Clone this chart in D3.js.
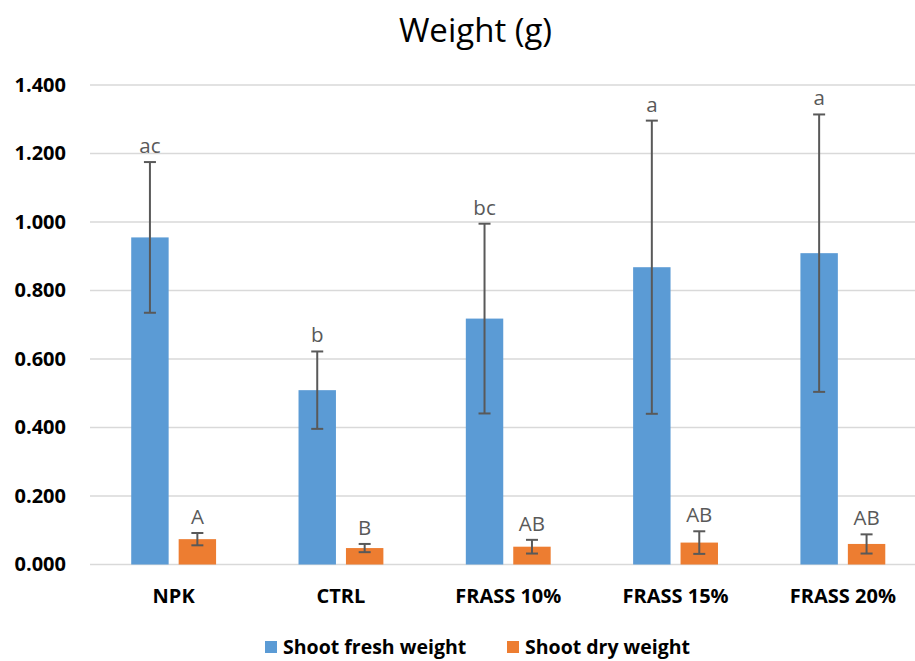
<!DOCTYPE html>
<html>
<head>
<meta charset="utf-8">
<script src="https://cdn.jsdelivr.net/npm/d3@7"></script>
<style>
  html, body { margin: 0; padding: 0; background: #fff; }
  svg { display: block; }
</style>
</head>
<body>
<div id="chart"></div>
<script>
// Treatments and measured shoot weights (g)
const categories = ["NPK", "CTRL", "FRASS 10%", "FRASS 15%", "FRASS 20%"];
const seriesNames = ["Shoot fresh weight", "Shoot dry weight"];
const freshWeight = [0.955, 0.509, 0.718, 0.868, 0.909];
const freshError  = [0.220, 0.113, 0.277, 0.428, 0.405];
const dryWeight   = [0.074, 0.048, 0.052, 0.064, 0.060];
const dryError    = [0.018, 0.012, 0.020, 0.033, 0.028];
const freshLetters = ["ac", "b", "bc", "a", "a"];
const dryLetters   = ["A", "B", "AB", "AB", "AB"];
const yTicks = [0, 0.2, 0.4, 0.6, 0.8, 1.0, 1.2, 1.4];
const colors = ["#5B9BD5", "#ED7D31"];

const W = 915, H = 661;
const margin = { left: 90, right: -11.5, top: 85, bottom: 96.5 };
const font = "'Open Sans', 'Noto Sans', sans-serif";

const svg = d3.select("#chart").append("svg")
  .attr("width", W).attr("height", H)
  .style("font-family", font);

const x = d3.scaleBand()
  .domain(categories)
  .range([margin.left, W - margin.right])
  .padding(0);

const x1 = d3.scaleBand()
  .domain(seriesNames)
  .range([0, x.bandwidth()])
  .paddingInner(0.211)
  .paddingOuter(0.869);

const y = d3.scaleLinear()
  .domain([0, 1.4])
  .range([H - margin.bottom, margin.top]);

// Horizontal gridlines
svg.append("g")
  .selectAll("line")
  .data(yTicks)
  .join("line")
  .attr("x1", margin.left).attr("x2", W)
  .attr("y1", d => y(d)).attr("y2", d => y(d))
  .attr("stroke", "#d9d9d9")
  .attr("stroke-width", 1.5);

// Y axis labels
const yAxis = d3.axisLeft(y)
  .tickValues(yTicks)
  .tickFormat(d3.format(".3f"))
  .tickSize(0)
  .tickPadding(0);
const gy = svg.append("g")
  .attr("transform", `translate(66,0)`)
  .call(yAxis);
gy.select(".domain").remove();
gy.selectAll("text")
  .attr("font-family", font)
  .attr("font-size", 20)
  .attr("font-weight", "bold")
  .attr("fill", "#000");

// X axis labels
const xAxis = d3.axisBottom(x).tickSize(0).tickPadding(0);
const gx = svg.append("g")
  .attr("transform", `translate(0,${y(0) + 24.5})`)
  .call(xAxis);
gx.select(".domain").remove();
gx.selectAll("text")
  .attr("font-family", font)
  .attr("font-size", 20)
  .attr("font-weight", "bold")
  .attr("fill", "#000");

// Bar records per category
const rows = categories.map((c, i) => ([
  { cat: c, s: seriesNames[0], v: freshWeight[i], e: freshError[i], lab: freshLetters[i], col: colors[0] },
  { cat: c, s: seriesNames[1], v: dryWeight[i], e: dryError[i], lab: dryLetters[i], col: colors[1] }
]));

const groups = svg.append("g")
  .selectAll("g")
  .data(rows)
  .join("g")
  .attr("transform", d => `translate(${x(d[0].cat)},0)`);

groups.selectAll("rect")
  .data(d => d)
  .join("rect")
  .attr("x", d => x1(d.s))
  .attr("width", x1.bandwidth())
  .attr("y", d => y(d.v))
  .attr("height", d => y(0) - y(d.v))
  .attr("fill", d => d.col);

// Error bars
const errColor = "#595959";
const capHalf = 6;
const eb = groups.selectAll("g.err")
  .data(d => d)
  .join("g")
  .attr("class", "err")
  .attr("transform", d => `translate(${x1(d.s) + x1.bandwidth() / 2},0)`);
eb.append("line")
  .attr("y1", d => y(d.v + d.e)).attr("y2", d => y(d.v - d.e))
  .attr("stroke", errColor).attr("stroke-width", 2);
eb.append("line")
  .attr("x1", -capHalf).attr("x2", capHalf)
  .attr("y1", d => y(d.v + d.e)).attr("y2", d => y(d.v + d.e))
  .attr("stroke", errColor).attr("stroke-width", 2);
eb.append("line")
  .attr("x1", -capHalf).attr("x2", capHalf)
  .attr("y1", d => y(d.v - d.e)).attr("y2", d => y(d.v - d.e))
  .attr("stroke", errColor).attr("stroke-width", 2);

// Significance letters
eb.append("text")
  .attr("y", d => y(d.v + d.e) - 9)
  .attr("text-anchor", "middle")
  .attr("font-size", 20.5)
  .attr("fill", "#595959")
  .text(d => d.lab);

// Title
svg.append("text")
  .attr("x", 475.5).attr("y", 42)
  .attr("text-anchor", "middle")
  .attr("font-size", 33)
  .attr("fill", "#000")
  .text("Weight (g)");

// Legend
const legendItems = [
  { name: seriesNames[0], col: colors[0], x: 265 },
  { name: seriesNames[1], col: colors[1], x: 507 }
];
const lg = svg.append("g")
  .selectAll("g")
  .data(legendItems)
  .join("g")
  .attr("transform", d => `translate(${d.x},647)`);
lg.append("rect")
  .attr("x", 0).attr("y", -6)
  .attr("width", 12).attr("height", 12)
  .attr("fill", d => d.col);
lg.append("text")
  .attr("x", 18).attr("y", 0)
  .attr("dy", "0.35em")
  .attr("font-size", 19.5)
  .attr("font-weight", "bold")
  .attr("fill", "#000")
  .text(d => d.name);
</script>
</body>
</html>
